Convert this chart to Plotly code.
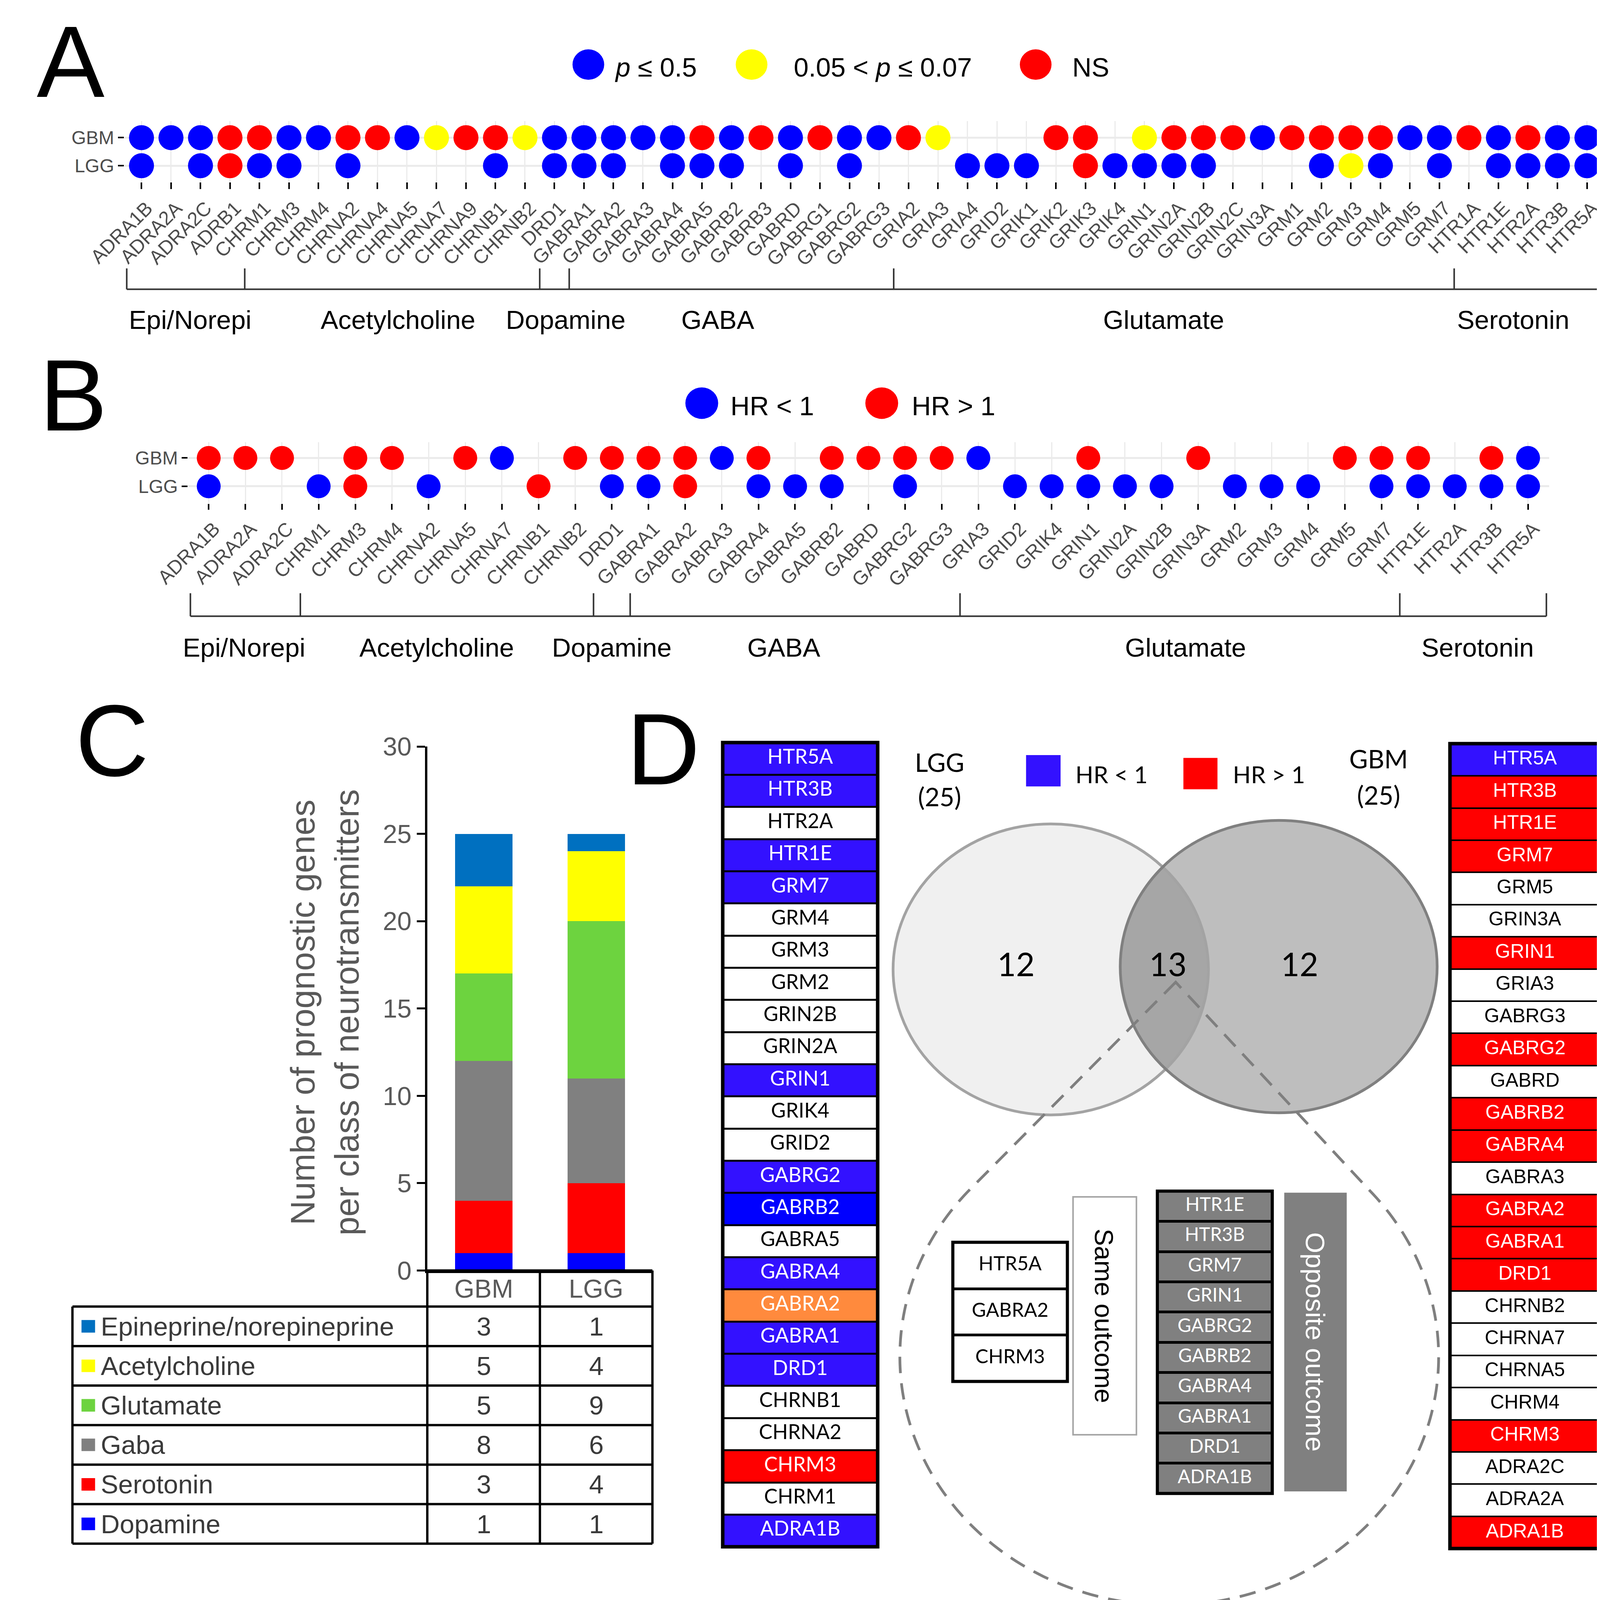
import numpy as np
import plotly.graph_objects as go

# ======================= DATA =======================
class_names = ["Epi/Norepi", "Acetylcholine", "Dopamine", "GABA", "Glutamate", "Serotonin"]

# ---- Panel A ----
genes_a = ["ADRA1B", "ADRA2A", "ADRA2C", "ADRB1", "CHRM1", "CHRM3", "CHRM4", "CHRNA2", "CHRNA4", "CHRNA5",
           "CHRNA7", "CHRNA9", "CHRNB1", "CHRNB2", "DRD1", "GABRA1", "GABRA2", "GABRA3", "GABRA4", "GABRA5",
           "GABRB2", "GABRB3", "GABRD", "GABRG1", "GABRG2", "GABRG3", "GRIA2", "GRIA3", "GRIA4", "GRID2",
           "GRIK1", "GRIK2", "GRIK3", "GRIK4", "GRIN1", "GRIN2A", "GRIN2B", "GRIN2C", "GRIN3A", "GRM1",
           "GRM2", "GRM3", "GRM4", "GRM5", "GRM7", "HTR1A", "HTR1E", "HTR2A", "HTR3B", "HTR5A"]
# S: p <= 0.5 ; T: 0.05 < p <= 0.07 ; N: NS ; "": not shown
gbm_a = ["S", "S", "S", "N", "N", "S", "S", "N", "N", "S",
         "T", "N", "N", "T", "S", "S", "S", "S", "S", "N",
         "S", "N", "S", "N", "S", "S", "N", "T", "", "",
         "", "N", "N", "", "T", "N", "N", "N", "S", "N",
         "N", "N", "N", "S", "S", "N", "S", "N", "S", "S"]
lgg_a = ["S", "", "S", "N", "S", "S", "", "S", "", "",
         "", "", "S", "", "S", "S", "S", "", "S", "S",
         "S", "", "S", "", "S", "", "", "", "S", "S",
         "S", "", "N", "S", "S", "S", "S", "", "", "",
         "S", "T", "S", "", "S", "", "S", "S", "S", "S"]
class_counts_a = [4, 10, 1, 11, 19, 5]
legend_a_codes = ["S", "T", "N"]
legend_a_texts = ["<i>p</i> ≤ 0.5", "0.05 < <i>p</i> ≤ 0.07", "NS"]

# ---- Panel B ----
genes_b = ["ADRA1B", "ADRA2A", "ADRA2C", "CHRM1", "CHRM3", "CHRM4", "CHRNA2", "CHRNA5", "CHRNA7", "CHRNB1",
           "CHRNB2", "DRD1", "GABRA1", "GABRA2", "GABRA3", "GABRA4", "GABRA5", "GABRB2", "GABRD", "GABRG2",
           "GABRG3", "GRIA3", "GRID2", "GRIK4", "GRIN1", "GRIN2A", "GRIN2B", "GRIN3A", "GRM2", "GRM3",
           "GRM4", "GRM5", "GRM7", "HTR1E", "HTR2A", "HTR3B", "HTR5A"]
# L: HR < 1 ; G: HR > 1 ; "": not shown
gbm_b = ["G", "G", "G", "", "G", "G", "", "G", "L", "",
         "G", "G", "G", "G", "L", "G", "", "G", "G", "G",
         "G", "L", "", "", "G", "", "", "G", "", "",
         "", "G", "G", "G", "", "G", "L"]
lgg_b = ["L", "", "", "L", "G", "", "L", "", "", "G",
         "", "L", "L", "G", "", "L", "L", "L", "", "L",
         "", "", "L", "L", "L", "L", "L", "", "L", "L",
         "L", "", "L", "L", "L", "L", "L"]
class_counts_b = [3, 8, 1, 9, 12, 4]
legend_b_codes = ["L", "G"]
legend_b_texts = ["HR < 1", "HR > 1"]

# ---- Panel C ----
c_groups = ["GBM", "LGG"]
c_classes = ["Epineprine/norepineprine", "Acetylcholine", "Glutamate", "Gaba", "Serotonin", "Dopamine"]
c_gbm = [3, 5, 5, 8, 3, 1]
c_lgg = [1, 4, 9, 6, 4, 1]
c_colors = ["#0070C0", "#FFFF00", "#6DD33F", "#808080", "#FF0000", "#0000FF"]
c_ticks = [0, 5, 10, 15, 20, 25, 30]

# ---- Panel D ----
d_lgg_genes = ["HTR5A", "HTR3B", "HTR2A", "HTR1E", "GRM7", "GRM4", "GRM3", "GRM2", "GRIN2B", "GRIN2A",
               "GRIN1", "GRIK4", "GRID2", "GABRG2", "GABRB2", "GABRA5", "GABRA4", "GABRA2", "GABRA1", "DRD1",
               "CHRNB1", "CHRNA2", "CHRM3", "CHRM1", "ADRA1B"]
d_lgg_codes = ["lt", "lt", "none", "lt", "lt", "none", "none", "none", "none", "none",
               "lt", "none", "none", "lt", "lt2", "none", "lt", "mix", "lt", "lt",
               "none", "none", "gt", "none", "lt"]
d_gbm_genes = ["HTR5A", "HTR3B", "HTR1E", "GRM7", "GRM5", "GRIN3A", "GRIN1", "GRIA3", "GABRG3", "GABRG2",
               "GABRD", "GABRB2", "GABRA4", "GABRA3", "GABRA2", "GABRA1", "DRD1", "CHRNB2", "CHRNA7", "CHRNA5",
               "CHRM4", "CHRM3", "ADRA2C", "ADRA2A", "ADRA1B"]
d_gbm_codes = ["lt", "gt", "gt", "gt", "none", "none", "gt", "none", "none", "gt",
               "none", "gt", "gt", "none", "gt", "gt", "gt", "none", "none", "none",
               "none", "gt", "none", "none", "gt"]
d_same = ["HTR5A", "GABRA2", "CHRM3"]
d_opposite = ["HTR1E", "HTR3B", "GRM7", "GRIN1", "GABRG2", "GABRB2", "GABRA4", "GABRA1", "DRD1", "ADRA1B"]

# ======================= STYLE / GEOMETRY =======================
W, H = 4190, 4541
S = W / 1446.0           # layout measured on a 1446-wide grid
OFF = 8.0                # page body margin compensation (px)
FY = 4190.0 / 4541.0     # vertical fit so that the whole layout lies inside the photographed area
FS = 0.96                # font scale for horizontal text
FV = FY                  # font scale for vertical (rotated) text

# small horizontal nudges (grid px) of the class labels under the brackets
lab_shift_a = [4, 5, 10, -12, -9, -13]
lab_shift_b = [-1, -9, 0, -10, 5, 4]


def P(v):
    return v * S


def XP(v):
    return (v * S - OFF) / W


def YP(v):
    return 1.0 - (v * S * FY - OFF) / H


FONT = "Liberation Sans"
FONT_C = "Lato"
GREY_TXT = "#4D4D4D"
COL_A = {"S": "#0000FF", "T": "#FFFF00", "N": "#FF0000"}
COL_B = {"L": "#0000FF", "G": "#FF0000"}
D_FILL = {"lt": "#3311FF", "lt2": "#0000FF", "mix": "#FF8A3D", "gt": "#FF0000", "none": "#FFFFFF"}
BRK = "#333333"

fig = go.Figure()
shapes, annos = [], []
layout = {}


def rect(x0, y0, x1, y1, line_color=None, line_width=0, fill=None):
    d = dict(type="rect", xref="paper", yref="paper", x0=XP(x0), x1=XP(x1), y0=YP(y1), y1=YP(y0),
             line=dict(color=line_color or "rgba(0,0,0,0)", width=line_width))
    if fill:
        d["fillcolor"] = fill
    shapes.append(d)


def seg(x0, y0, x1, y1, color, width):
    shapes.append(dict(type="line", xref="paper", yref="paper", x0=XP(x0), y0=YP(y0), x1=XP(x1), y1=YP(y1),
                       line=dict(color=color, width=width)))


def circ(cx, cy, r, fill=None, line_color=None, line_width=0):
    d = dict(type="circle", xref="paper", yref="paper", x0=XP(cx - r), x1=XP(cx + r), y0=YP(cy + r), y1=YP(cy - r),
             line=dict(color=line_color or "rgba(0,0,0,0)", width=line_width))
    if fill:
        d["fillcolor"] = fill
    shapes.append(d)


def dot(cx, cy, r, fill):
    rx = r * S / W
    ry = r * S * np.sqrt(FY) / H
    shapes.append(dict(type="circle", xref="paper", yref="paper", x0=XP(cx) - rx, x1=XP(cx) + rx,
                       y0=YP(cy) - ry, y1=YP(cy) + ry, line=dict(width=0), fillcolor=fill))


def path(pts, close=True, fill=None, line_color=None, line_width=0, dash=None):
    s = "M " + " L ".join("%.6f,%.6f" % (XP(x), YP(y)) for x, y in pts) + (" Z" if close else "")
    d = dict(type="path", xref="paper", yref="paper", path=s,
             line=dict(color=line_color or "rgba(0,0,0,0)", width=line_width, dash=dash))
    if fill:
        d["fillcolor"] = fill
    shapes.append(d)


def txt(x, y, s, size, color="black", family=FONT, xanchor="center", yanchor="middle", angle=0):
    fs = size * (FV if angle else FS)
    annos.append(dict(xref="paper", yref="paper", x=XP(x), y=YP(y), text=s, showarrow=False,
                      font=dict(size=fs, color=color, family=family), xanchor=xanchor, yanchor=yanchor,
                      textangle=angle, borderpad=0))


# panel letters
for letter, cx, cy in (("A", 62.5, 59), ("B", 65, 378.5), ("C", 99, 709), ("D", 586, 717)):
    txt(cx, cy, letter, 271)


# ======================= DOT PANELS (A, B) =======================
def dot_panel(ax, genes, gbm, lgg, colmap, x0, x1, left, right, yg, yl, top, bottom, dot_d, ticklen_x, ticklen_y):
    n = len(genes)
    dx = (x1 - x0) / (n - 1)
    dy = yl - yg
    xa, ya = "x" + ax, "y" + ax
    for row_val, row in ((1, gbm), (0, lgg)):
        for code, col in colmap.items():
            xs = [i for i, v in enumerate(row) if v == code]
            fig.add_trace(go.Scatter(x=xs, y=[row_val] * len(xs), mode="markers",
                                     marker=dict(size=P(dot_d) * np.sqrt(FY), color=col, line=dict(width=0)),
                                     xaxis=xa, yaxis=ya, hoverinfo="skip"))
    layout["xaxis" + ax] = dict(domain=[XP(left), XP(right)], range=[(left - x0) / dx, (right - x0) / dx],
                                anchor=ya, tickmode="array", tickvals=list(range(n)), ticktext=genes,
                                tickangle=-45, tickfont=dict(size=52 * FS, color=GREY_TXT, family=FONT),
                                ticks="outside", ticklen=ticklen_x, tickwidth=4, tickcolor="black",
                                ticklabelshift=14,
                                showgrid=True, gridcolor="#EBEBEB", gridwidth=3, zeroline=False, showline=False,
                                automargin=False)
    layout["yaxis" + ax] = dict(domain=[YP(bottom), YP(top)],
                                range=[-(bottom - yl) / dy, 1 + (yg - top) / dy],
                                anchor=xa, tickmode="array", tickvals=[1, 0], ticktext=["GBM", "LGG"],
                                tickfont=dict(size=50 * FS, color=GREY_TXT, family=FONT),
                                ticks="outside", ticklen=ticklen_y, tickwidth=4, tickcolor="black",
                                showgrid=True, gridcolor="#EBEBEB", gridwidth=5, zeroline=False, showline=False,
                                automargin=False)
    return dx


def brackets(counts, x0, dx, y_line, y_top, y_lab, shifts):
    edges = [-0.5]
    for c in counts:
        edges.append(edges[-1] + c)
    xs = [x0 + e * dx for e in edges]
    seg(xs[0], y_line, xs[-1], y_line, BRK, 4)
    for x in xs:
        seg(x, y_top, x, y_line, BRK, 4)
    for k, name in enumerate(class_names):
        mid = (edges[k] + edges[k + 1]) / 2
        txt(x0 + mid * dx + shifts[k], y_lab, name, 70)


# Panel A
A_X0, A_X1 = 125.0, 1402.0
dxa = dot_panel("", genes_a, gbm_a, lgg_a, COL_A, A_X0, A_X1, 109.7, 1415.0, 131.8, 158.7, 116.0, 174.3, 23, 17, 15)
brackets(class_counts_a, A_X0, dxa, 277, 257, 306, lab_shift_a)
for code, dxp in zip(legend_a_codes, [519.8, 664.0, 915.0]):
    dot(dxp, 61.8, 14, COL_A[code])
for t, tx in zip(legend_a_texts, [543.0, 701.0, 947.0]):
    txt(tx, 64.5, t, 71, xanchor="left")

# Panel B
B_X0, B_X1 = 184.4, 1350.0
dxb = dot_panel("2", genes_b, gbm_b, lgg_b, COL_B, B_X0, B_X1, 166.0, 1368.6, 438.5, 465.6, 423.4, 482.0, 22, 15, 15)
brackets(class_counts_b, B_X0, dxb, 590, 568, 620, lab_shift_b)
for code, dxp, tx, t in zip(legend_b_codes, [620.0, 779.0], [645.0, 805.0], legend_b_texts):
    dot(dxp, 386, 14.5, COL_B[code])
    txt(tx, 388.5, t, 71, xanchor="left")

# ======================= PANEL C =======================
C_L, C_R, C_T, C_B = 377.5, 576.5, 714.8, 1216.5
for k in reversed(range(len(c_classes))):
    fig.add_trace(go.Bar(x=[0, 1], y=[c_gbm[k], c_lgg[k]], width=0.51,
                         marker=dict(color=c_colors[k], line=dict(width=0)),
                         xaxis="x3", yaxis="y3", hoverinfo="skip"))
layout["xaxis3"] = dict(domain=[XP(C_L), XP(C_R)], range=[-0.5, 1.5], anchor="y3", showticklabels=False,
                        ticks="", showgrid=False, zeroline=False, showline=True, linecolor="black", linewidth=6,
                        automargin=False)
layout["yaxis3"] = dict(domain=[YP(C_B), YP(C_T)], range=[0, 30], anchor="x3", tickmode="array", tickvals=c_ticks,
                        tickfont=dict(size=69 * FS, color="#595959", family=FONT), ticks="outside", ticklen=21,
                        tickwidth=5, tickcolor="black", showgrid=False, zeroline=False, showline=True,
                        linecolor="black", linewidth=6, automargin=False)
txt(287, 969.5, "Number of prognostic genes<br>per class of neurotransmitters", 94, color="#595959", angle=-90)

# table
T_L, T_C1, T_C2, T_R = 64.0, 377.5, 477.0, 576.4
T_TOP, T_H0, T_BOT = 1216.5, 1251.0, 1478.0
T_RH = (T_BOT - T_H0) / len(c_classes)
LW = 6
for x in (T_C1, T_C2, T_R):
    seg(x, T_TOP, x, T_BOT, "black", LW)
seg(T_L, T_H0, T_L, T_BOT, "black", LW)
seg(T_C1, T_TOP, T_R, T_TOP, "black", LW)
for k in range(len(c_classes) + 1):
    seg(T_L, T_H0 + k * T_RH, T_R, T_H0 + k * T_RH, "black", LW)
col_centers = [(T_C1 + T_C2) / 2, (T_C2 + T_R) / 2]
for g, xc in zip(c_groups, col_centers):
    txt(xc, (T_TOP + T_H0) / 2, g, 69, color="#595959")
for k, name in enumerate(c_classes):
    yc = T_H0 + (k + 0.5) * T_RH
    rect(72, yc - 6, 84, yc + 6, fill=c_colors[k])
    txt(88.7, yc, name, 70, color="#3A3A3A", xanchor="left")
    txt(col_centers[0], yc, str(c_gbm[k]), 70, color="#3A3A3A")
    txt(col_centers[1], yc, str(c_lgg[k]), 70, color="#3A3A3A")


# ======================= PANEL D =======================
def gene_list(ax, genes, fills, tcolors, left, top, right, bottom, fsize, family, frame_w, sep_w):
    n = len(genes)
    xa, ya = "x%d" % ax, "y%d" % ax
    fig.add_trace(go.Bar(x=[1] * n, y=list(range(n)), base=0, width=1, orientation="h",
                         marker=dict(color=fills, line=dict(color="black", width=sep_w)),
                         xaxis=xa, yaxis=ya, hoverinfo="skip"))
    fig.add_trace(go.Scatter(x=[0.5] * n, y=list(range(n)), mode="text", text=genes,
                             textfont=dict(size=fsize * FS, family=family, color=tcolors),
                             xaxis=xa, yaxis=ya, hoverinfo="skip", cliponaxis=False))
    layout["xaxis%d" % ax] = dict(domain=[XP(left), XP(right)], range=[0, 1], anchor=ya, visible=False,
                                  automargin=False)
    layout["yaxis%d" % ax] = dict(domain=[YP(bottom), YP(top)], range=[n - 0.5, -0.5], anchor=xa, visible=False,
                                  automargin=False)
    rect(left, top, right, bottom, "black", frame_w)


gene_list(4, d_lgg_genes, [D_FILL[c] for c in d_lgg_codes],
          ["black" if c == "none" else "white" for c in d_lgg_codes],
          638.5, 711.0, 775.4, 1481.0, 54, FONT_C, 9, 5)
gene_list(5, d_gbm_genes, [D_FILL[c] for c in d_gbm_codes],
          ["black" if c == "none" else "white" for c in d_gbm_codes],
          1281.0, 712.0, 1413.4, 1482.7, 52, FONT, 9, 4)
gene_list(6, d_same, ["#FFFFFF"] * len(d_same), ["black"] * len(d_same),
          841.8, 1189.5, 943.0, 1322.7, 52, FONT_C, 8, 7)
gene_list(7, d_opposite, ["#808080"] * len(d_opposite), ["white"] * len(d_opposite),
          1022.5, 1140.5, 1124.0, 1430.0, 50, FONT_C, 8, 7)

# Venn
n_both = len(set(d_lgg_genes) & set(d_gbm_genes))
n_lgg_only = len(d_lgg_genes) - n_both
n_gbm_only = len(d_gbm_genes) - n_both
cL, rL = (928.3, 928.2), 139.3
cR, rR = (1129.7, 925.5), 140.0
circ(cL[0], cL[1], rL, fill="#F0F0F0")
circ(cR[0], cR[1], rR, fill="#BEBEBE")
(x1, y1), (x2, y2) = cL, cR
dd = np.hypot(x2 - x1, y2 - y1)
aa = (rL ** 2 - rR ** 2 + dd ** 2) / (2 * dd)
hh = np.sqrt(rL ** 2 - aa ** 2)
ux, uy = (x2 - x1) / dd, (y2 - y1) / dd
mx, my = x1 + aa * ux, y1 + aa * uy
ia = (mx + hh * uy, my - hh * ux)
ib = (mx - hh * uy, my + hh * ux)
t1u = np.arctan2(ia[1] - y1, ia[0] - x1)
t1l = np.arctan2(ib[1] - y1, ib[0] - x1)
t2l = np.arctan2(ib[1] - y2, ib[0] - x2)
t2u = np.arctan2(ia[1] - y2, ia[0] - x2)
th1 = np.linspace(t1u, t1l, 80)
th2 = np.linspace(t2l, t2u + 2 * np.pi, 80)
lens = list(zip(x1 + rL * np.cos(th1), y1 + rL * np.sin(th1))) + \
       list(zip(x2 + rR * np.cos(th2), y2 + rR * np.sin(th2)))
path(lens, fill="#A6A6A6")
circ(cL[0], cL[1], rL, line_color="#A3A3A3", line_width=7)
circ(cR[0], cR[1], rR, line_color="#808080", line_width=7)

txt(897.6, 922.8, str(n_lgg_only), 86, family=FONT_C)
txt(1031.8, 922.8, str(n_both), 86, family=FONT_C)
txt(1148.0, 922.8, str(n_gbm_only), 86, family=FONT_C)
txt(830, 729.6, "LGG", 68, family=FONT_C)
txt(830, 762.6, "(%d)" % len(d_lgg_genes), 68, family=FONT_C)
txt(1218, 726.5, "GBM", 68, family=FONT_C)
txt(1218, 761.0, "(%d)" % len(d_gbm_genes), 68, family=FONT_C)

# legend D
rect(906.5, 723.0, 937.0, 753.0, fill=D_FILL["lt"])
txt(949.6, 741.0, "HR < 1", 63, family=FONT_C, xanchor="left")
rect(1045.5, 725.7, 1075.6, 755.7, fill=D_FILL["gt"])
txt(1088.7, 741.0, "HR > 1", 63, family=FONT_C, xanchor="left")

# dashed teardrop
tx, ty = 1038.7, 940.4
cx, cy, rr = 1033.0, 1299.0, 238.0
dT = np.hypot(tx - cx, ty - cy)
phi = np.arctan2(ty - cy, tx - cx)
al = np.arccos(rr / dT)
th = np.linspace(phi - al, phi + al - 2 * np.pi, 240)
drop = [(tx, ty)] + list(zip(cx + rr * np.cos(th), cy + rr * np.sin(th)))
path(drop, close=True, line_color="#7F7F7F", line_width=7, dash="42px,26px")

# Same / opposite outcome labels
rect(948.0, 1146.0, 1004.0, 1373.8, line_color="#A6A6A6", line_width=4, fill="#FFFFFF")
txt(975.5, 1260.0, "Same outcome", 72, angle=90)
rect(1134.6, 1142.0, 1189.8, 1428.0, fill="#808080")
txt(1162.0, 1285.0, "Opposite outcome", 75, color="white", angle=90)

# ======================= LAYOUT =======================
fig.update_layout(template="none", width=W, height=H,
                  margin=dict(l=0, r=0, t=0, b=0, pad=0, autoexpand=False), autosize=False,
                  paper_bgcolor="white", plot_bgcolor="white", showlegend=False, barmode="stack",
                  hovermode=False, font=dict(family=FONT), shapes=shapes, annotations=annos, **layout)
fig.write_html("out.html")
